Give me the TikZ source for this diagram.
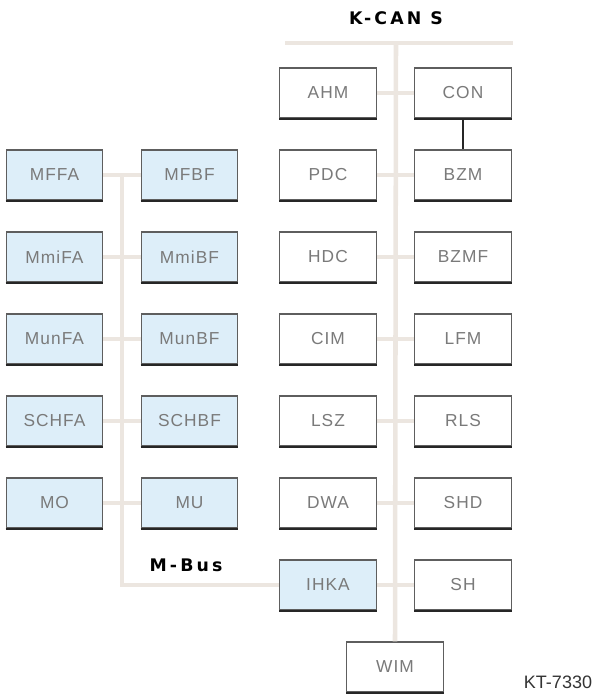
\documentclass[tikz,border=0pt]{standalone}
\usepackage{fontspec}
\setmainfont{Liberation Sans}
\newfontfamily\ttlfont{DejaVu Sans}
\usepackage{xcolor}
\usetikzlibrary{positioning}
\definecolor{busc}{HTML}{ECE6E0}
\definecolor{boxc}{HTML}{5E5E5E}
\definecolor{txtc}{HTML}{7A7A7A}
\definecolor{mbg}{HTML}{DDEEF9}
\tikzset{
  bus/.style={line width=3.4pt,busc},
  shd/.style={draw=black!85,line width=1.5pt},
  ecu/.style={draw=boxc,line width=0.9pt,fill=white,minimum width=72.5pt,minimum height=37.5pt,inner sep=0pt,
    text=txtc,font=\fontsize{13}{13}\selectfont\addfontfeature{LetterSpace=6},
    append after command={(\tikzlastnode.south west) edge[shd] (\tikzlastnode.south east)}},
  mecu/.style={ecu,fill=mbg},
  ttl/.style={font=\ttlfont\fontsize{13}{14}\selectfont\bfseries\addfontfeature{LetterSpace=18}}
}
\begin{document}
\begin{tikzpicture}[x=0.75pt,y=-0.75pt]
\useasboundingbox (0,0) rectangle (596,696);
% M-Bus side
\foreach \a/\b [count=\i] in {MFFA/MFBF,MmiFA/MmiBF,MunFA/MunBF,SCHFA/SCHBF,MO/MU}{%
  \node[mecu] (\a) at (54.5,{93+82*\i}) {\a};
  \node[mecu] (\b) at (189.5,{93+82*\i}) {\b};}
% K-CAN S side
\foreach \a/\b [count=\i from 0] in {AHM/CON,PDC/BZM,HDC/BZMF,CIM/LFM,LSZ/RLS,DWA/SHD}{%
  \node[ecu] (\a) at (328,{93+82*\i}) {\a};
  \node[ecu] (\b) at (463,{93+82*\i}) {\b};}
\node[mecu] (IHKA) at (328,585) {IHKA};
\node[ecu] (SH) at (463,585) {SH};
\node[ecu] (WIM) at (395,667) {WIM};
% buses
\coordinate (kl) at (285,43);
\coordinate (kr) at (513,43);
\coordinate (kt) at (396,43);
\coordinate (mt) at (122,174);
\draw[bus] (kl) -- (kr);
\draw[bus] (kt) -- (WIM.north);
\foreach \n in {AHM,PDC,HDC,CIM,LSZ,DWA,IHKA} \draw[bus] (\n.east) -- (\n.east -| kt);
\foreach \n in {CON,BZM,BZMF,LFM,RLS,SHD,SH} \draw[bus] (\n.west) -- (\n.west -| kt);
\draw[bus] (mt) |- (IHKA.west);
\foreach \n in {MFFA,MmiFA,MunFA,SCHFA,MO} \draw[bus] (\n.east) -- (\n.east -| mt);
\foreach \n in {MFBF,MmiBF,MunBF,SCHBF,MU} \draw[bus] (\n.west) -- (\n.west -| mt);
\draw[line width=1.5pt,black!85] (CON.south) -- (BZM.north);
% labels
\node[ttl] (kcan) at (396,18) {K-CAN S};
\node[ttl] (mbus) at (186,565) {M-Bus};
\node[font=\fontsize{13.5}{14}\selectfont,text=black!80] (ktno) at (558,682) {KT-7330};
\end{tikzpicture}
\end{document}
